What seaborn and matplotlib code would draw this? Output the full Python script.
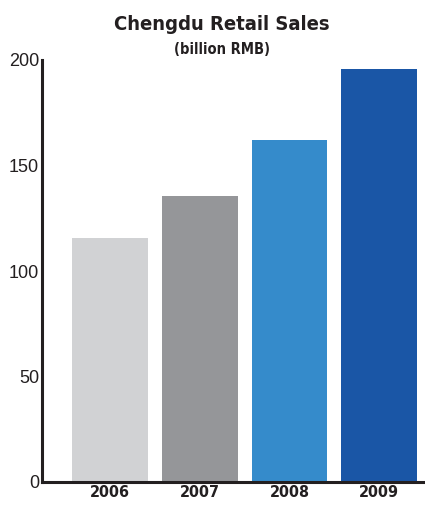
import matplotlib
matplotlib.use("Agg")
import matplotlib.pyplot as plt
import seaborn as sns
import pandas as pd

years = ["2006", "2007", "2008", "2009"]
sales = [115.5, 135.5, 162, 195.5]
bar_colors = ["#d1d2d4", "#959699", "#358bcb", "#1a56a6"]
yticks = [0, 50, 100, 150, 200]
title = "Chengdu Retail Sales"
subtitle = "(billion RMB)"

sns.set_theme(style="white")
plt.rcParams['font.family'] = ['DejaVu Sans']

df = pd.DataFrame({"year": years, "sales": sales})

fig = plt.figure(figsize=(4.25, 5.05), dpi=100)
ax = fig.add_axes([42/425, 1 - 482/505, 1 - 42/425, (482 - 60)/505])
sns.barplot(data=df, x="year", y="sales", hue="year", palette=bar_colors,
            width=0.845, legend=False, saturation=1, linewidth=0,
            edgecolor='none', ax=ax)

ax.set_ylim(0, 200)
ax.set_xlim(-0.758, 3.51)
ax.set_yticks(yticks)
ax.set_yticklabels([str(t) for t in yticks], fontsize=13,
                   fontfamily='Liberation Sans', color='#231f20')
ax.tick_params(axis='y', direction='in', length=6.5, width=2.2, color='#231f20', pad=2)
ax.tick_params(axis='x', length=0, pad=2)
for lbl in ax.get_xticklabels():
    lbl.set_fontsize(11.5)
    lbl.set_fontweight('bold')
    lbl.set_fontstretch('condensed')
    lbl.set_color('#231f20')
ax.set_xlabel("")
ax.set_ylabel("")
for s in ["top", "right"]:
    ax.spines[s].set_visible(False)
for s in ["left", "bottom"]:
    ax.spines[s].set_linewidth(2.2)
    ax.spines[s].set_color('#231f20')

fig.text(222/425, 1 - 25/505, title, ha='center', va='center', fontsize=14.5,
         fontweight='bold', fontstretch='condensed', color='#231f20')
fig.text(222/425, 1 - 49/505, subtitle, ha='center', va='center', fontsize=10.5,
         fontweight='bold', fontstretch='condensed', color='#231f20')

fig.savefig("out.png", dpi=100)
